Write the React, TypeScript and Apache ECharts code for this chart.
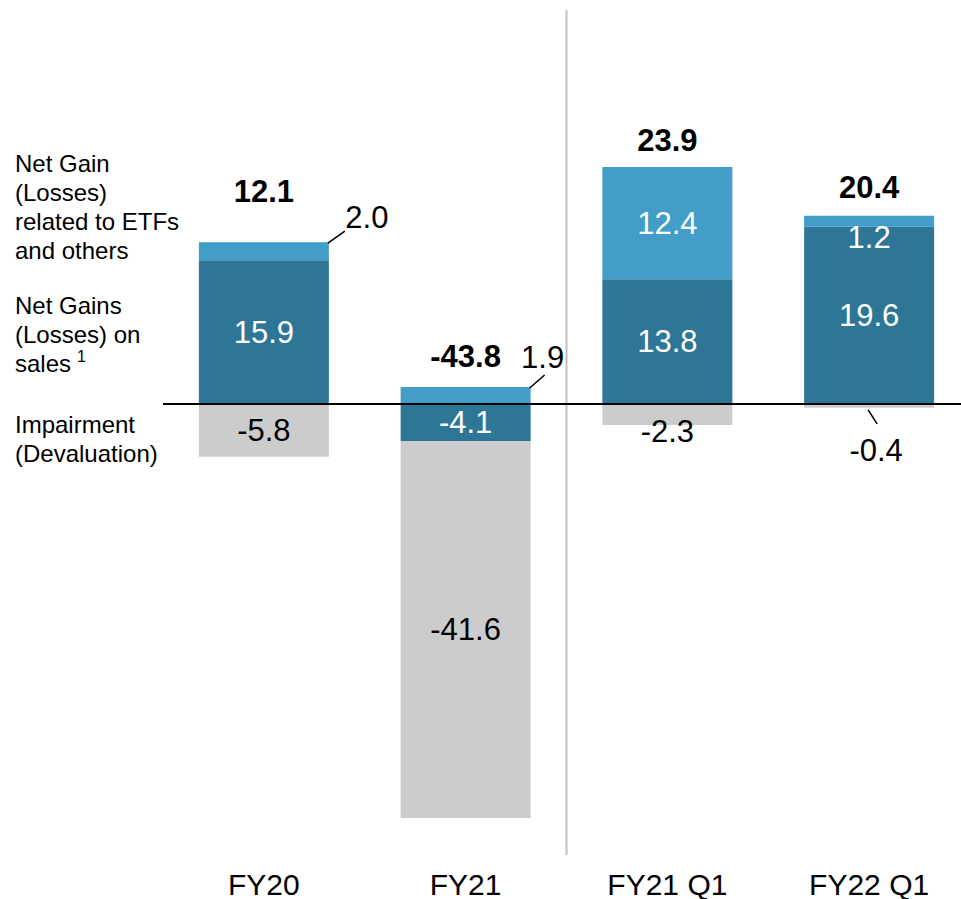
import React, { useEffect, useRef } from 'react';
import * as echarts from 'echarts';

// ---- data ----
const categories = ['FY20', 'FY21', 'FY21 Q1', 'FY22 Q1'];
const salesGains = [15.9, -4.1, 13.8, 19.6];
const etfGains = [2.0, 1.9, 12.4, 1.2];
const impairment = [-5.8, -41.6, -2.3, -0.4];
const totals = [12.1, -43.8, 23.9, 20.4];
const seriesNames = [
  'Net Gains (Losses) on sales',
  'Net Gain (Losses) related to ETFs and others',
  'Impairment (Devaluation)',
];
const legendTexts = [
  'Net Gain\n(Losses)\nrelated to ETFs\nand others',
  'Net Gains\n(Losses) on\nsales{sup|1}',
  'Impairment\n(Devaluation)',
];

// ---- styling ----
const FONT = '"Liberation Sans", Arial, Helvetica, sans-serif';
const DARK = '#2E7696';
const LIGHT = '#429DC8';
const GREY = '#CCCCCC';
const BAR_W = 130;
const NUM_SIZE = 31;
const CHART_W = 980;

const etfLabelCfg = [
  { color: '#000', offset: [103, -34] },
  { color: '#000', offset: [77, -38] },
  { color: '#fff', offset: [0, 0] },
  { color: '#fff', offset: [0, 16] },
];
const impLabelCfg = [
  { offset: [0, 0] },
  { offset: [0, 0] },
  { offset: [0, 17] },
  { offset: [7, 44] },
];
const totalOffsets = [
  [0, -51],
  [0, -31],
  [0, -26],
  [0, -28],
];
const legendY = [207, 334, 439];

const fmt = (v: number) => v.toFixed(1);

export default function App() {
  const ref = useRef<HTMLDivElement>(null);

  useEffect(() => {
    if (!ref.current) return;
    const chart = echarts.init(ref.current, undefined, { renderer: 'svg' });

    const baseLabel = {
      show: true,
      fontFamily: FONT,
      fontSize: NUM_SIZE,
      position: 'inside',
      textBorderWidth: 0,
    };

    const option: any = {
      animation: false,
      backgroundColor: '#ffffff',
      grid: { left: 163, right: CHART_W - 970, top: 42, bottom: 40, containLabel: false },
      xAxis: {
        type: 'category',
        data: categories,
        axisLine: { show: false, onZero: false },
        axisTick: { show: false },
        axisLabel: {
          color: '#000',
          fontFamily: FONT,
          fontSize: 30,
          lineHeight: 24,
          margin: 15,
          interval: 0,
        },
        splitLine: { show: false },
      },
      yAxis: {
        type: 'value',
        min: -50,
        max: 40,
        show: false,
      },
      series: [
        {
          name: seriesNames[0],
          type: 'bar',
          stack: 'total',
          barWidth: BAR_W,
          itemStyle: { color: DARK },
          data: salesGains.map((v) => ({
            value: v,
            label: { ...baseLabel, color: '#fff', formatter: fmt(v) },
          })),
        },
        {
          name: seriesNames[1],
          type: 'bar',
          stack: 'total',
          barWidth: BAR_W,
          itemStyle: { color: LIGHT },
          data: etfGains.map((v, i) => ({
            value: v,
            label: {
              ...baseLabel,
              color: etfLabelCfg[i].color,
              offset: etfLabelCfg[i].offset,
              formatter: fmt(v),
            },
          })),
        },
        {
          name: seriesNames[2],
          type: 'bar',
          stack: 'total',
          barWidth: BAR_W,
          itemStyle: { color: GREY },
          data: impairment.map((v, i) => ({
            value: v,
            label: {
              ...baseLabel,
              color: '#000',
              offset: impLabelCfg[i].offset,
              formatter: fmt(v),
            },
          })),
        },
        {
          name: 'Total',
          type: 'scatter',
          z: 10,
          symbolSize: 1,
          itemStyle: { color: 'transparent' },
          data: categories.map((_, i) => etfGains[i] + Math.max(salesGains[i], 0)),
          label: {
            show: true,
            position: 'inside',
            fontFamily: FONT,
            fontSize: NUM_SIZE,
            fontWeight: 'bold',
            color: '#000',
            textBorderWidth: 0,
            opacity: 1,
            formatter: (p: any) => fmt(totals[p.dataIndex]),
          },
          labelLayout: (p: any) => ({
            dx: totalOffsets[p.dataIndex][0],
            dy: totalOffsets[p.dataIndex][1],
          }),
          markLine: {
            silent: true,
            symbol: ['none', 'none'],
            label: { show: false },
            lineStyle: { color: '#000', width: 2, type: 'solid' },
            data: [{ yAxis: 0 }],
          },
        },
      ],
    };

    chart.setOption(option);

    const px = (i: number, v: number) =>
      chart.convertToPixel({ gridIndex: 0 }, [i, v]) as number[];

    const half = BAR_W / 2;
    const fy20Top = px(0, salesGains[0] + etfGains[0]);
    const fy21Top = px(1, Math.max(salesGains[1], 0) + etfGains[1]);
    const fy22Bottom = px(3, Math.min(salesGains[3], 0) + impairment[3]);
    const sepX = (px(1, 0)[0] + px(2, 0)[0]) / 2;
    const gridBottom = px(0, -50)[1];

    const lineStyle = { stroke: '#000', lineWidth: 1.6 };
    const graphics: any[] = [
      {
        type: 'line',
        silent: true,
        shape: { x1: sepX, y1: 10, x2: sepX, y2: gridBottom - 2 },
        style: { stroke: '#BFBFBF', lineWidth: 2 },
        z: 1,
      },
      {
        type: 'line',
        silent: true,
        shape: { x1: fy20Top[0] + half - 1, y1: fy20Top[1] + 1, x2: fy20Top[0] + half + 16, y2: fy20Top[1] - 11 },
        style: lineStyle,
        z: 20,
      },
      {
        type: 'line',
        silent: true,
        shape: { x1: fy21Top[0] + half - 1, y1: fy21Top[1] + 1, x2: fy21Top[0] + half + 14, y2: fy21Top[1] - 12 },
        style: lineStyle,
        z: 20,
      },
      {
        type: 'line',
        silent: true,
        shape: { x1: fy22Bottom[0] - 1, y1: fy22Bottom[1] + 2, x2: fy22Bottom[0] + 8, y2: fy22Bottom[1] + 16 },
        style: lineStyle,
        z: 20,
      },
      ...legendTexts.map((t, i) => ({
        type: 'text',
        silent: true,
        x: 15,
        y: legendY[i],
        style: {
          text: t,
          fontFamily: FONT,
          fontSize: 24,
          lineHeight: 29,
          fill: '#000',
          align: 'left',
          verticalAlign: 'middle',
          rich: {
            sup: {
              fontSize: 16,
              fontFamily: FONT,
              fill: '#000',
              verticalAlign: 'top',
              lineHeight: 22,
              padding: [0, 0, 0, 6],
            },
          },
        },
      })),
    ];

    chart.setOption({ graphic: graphics });

    return () => chart.dispose();
  }, []);

  return (
    <div
      style={{
        position: 'absolute',
        left: 0,
        top: 0,
        width: 961,
        height: 899,
        overflow: 'hidden',
        background: '#fff',
      }}
    >
      <div ref={ref} style={{ width: CHART_W, height: 899 }} />
    </div>
  );
}
